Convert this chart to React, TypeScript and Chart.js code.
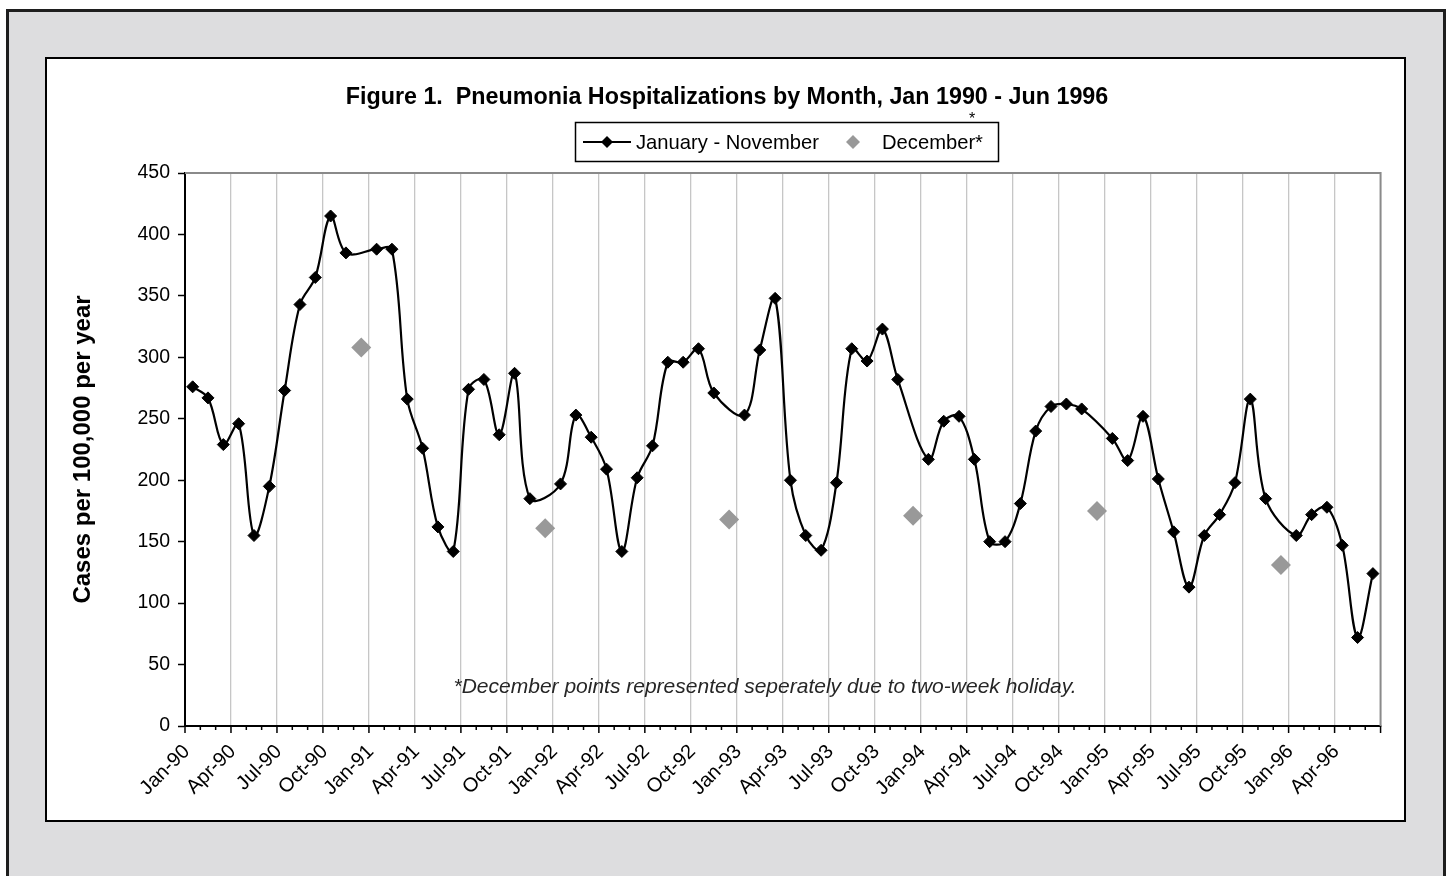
import React, { useEffect, useRef } from 'react';
import { Chart, registerables } from 'chart.js';

Chart.register(...registerables);

const MONTH_NAMES = ['Jan', 'Feb', 'Mar', 'Apr', 'May', 'Jun', 'Jul', 'Aug', 'Sep', 'Oct', 'Nov', 'Dec'];
const YEAR_SUFFIXES = ['90', '91', '92', '93', '94', '95', '96'];
const MONTH_COUNT = 78; // Jan 1990 - Jun 1996

const categories: string[] = [];
for (const y of YEAR_SUFFIXES) {
  for (const m of MONTH_NAMES) {
    if (categories.length < MONTH_COUNT) categories.push(`${m}-${y}`);
  }
}

// January - November values (December left empty, shown separately)
const janToNov: (number | null)[] = [
  // 1990
  276, 267, 229, 246, 155, 195, 273, 343, 365, 415, 385, null,
  // 1991
  388, 388, 266, 226, 162, 142, 274, 282, 237, 287, 185, null,
  // 1992
  197, 253, 235, 209, 142, 202, 228, 296, 296, 307, 271, null,
  // 1993
  253, 306, 348, 200, 155, 143, 198, 307, 297, 323, 282, null,
  // 1994
  217, 248, 252, 217, 150, 150, 181, 240, 260, 262, 258, null,
  // 1995
  234, 216, 252, 201, 158, 113, 155, 172, 198, 266, 185, null,
  // 1996
  155, 172, 178, 147, 72, 124,
];

// December values 1990 - 1995
const decemberValues = [308, 161, 168, 171, 175, 131];

const decemberSeries = categories.map((c, i) =>
  c.startsWith('Dec') ? decemberValues[Math.floor(i / 12)] : null
);

const Y_MIN = 0;
const Y_MAX = 450;
const Y_STEP = 50;

const TITLE = 'Figure 1.  Pneumonia Hospitalizations by Month, Jan 1990 - Jun 1996';
const Y_TITLE = 'Cases per 100,000 per year';
const NOTE = '*December points represented seperately due to two-week holiday.';
const SERIES_LABELS = ['January - November', 'December*'];

const FONT = "'Liberation Sans', Arial, Helvetica, sans-serif";

function diamond(ctx: CanvasRenderingContext2D, x: number, y: number, r: number) {
  ctx.beginPath();
  ctx.moveTo(x - r, y);
  ctx.lineTo(x, y - r);
  ctx.lineTo(x + r, y);
  ctx.lineTo(x, y + r);
  ctx.closePath();
  ctx.fill();
}

const decorPlugin = {
  id: 'decor',
  afterDraw(chart: any) {
    const { ctx, chartArea: ca, scales } = chart;
    const xs = scales.x;
    ctx.save();

    // top and right plot borders (gray)
    ctx.strokeStyle = '#8a8a8a';
    ctx.lineWidth = 2;
    ctx.beginPath();
    ctx.moveTo(ca.left, ca.top);
    ctx.lineTo(ca.right, ca.top);
    ctx.lineTo(ca.right, ca.bottom);
    ctx.stroke();

    // x tick marks: every month, longer every quarter
    const n = chart.data.labels.length;
    const w = (xs.right - xs.left) / n;
    ctx.strokeStyle = '#000';
    ctx.lineWidth = 1.5;
    for (let i = 0; i <= n; i++) {
      const px = xs.left + i * w;
      const len = i % 3 === 0 ? 7 : 4;
      ctx.beginPath();
      ctx.moveTo(px, ca.bottom);
      ctx.lineTo(px, ca.bottom + len);
      ctx.stroke();
    }

    // title
    ctx.fillStyle = '#000';
    ctx.font = `bold 23.3px ${FONT}`;
    ctx.textAlign = 'center';
    ctx.textBaseline = 'alphabetic';
    ctx.fillText(TITLE, 680, 45);

    // legend
    const lx = 528.5, ly = 63.5, lw = 423, lh = 39;
    ctx.strokeStyle = '#000';
    ctx.lineWidth = 1.5;
    ctx.strokeRect(lx, ly, lw, lh);
    const cy = 83;
    ctx.strokeStyle = '#000';
    ctx.lineWidth = 2;
    ctx.beginPath();
    ctx.moveTo(536, cy);
    ctx.lineTo(584, cy);
    ctx.stroke();
    ctx.fillStyle = '#000';
    diamond(ctx, 560, cy, 6);
    ctx.fillStyle = '#999999';
    diamond(ctx, 806, cy, 7);
    ctx.fillStyle = '#000';
    ctx.font = `20.2px ${FONT}`;
    ctx.textAlign = 'left';
    ctx.fillText(chart.data.datasets[0].label, 589, 90);
    ctx.fillText(chart.data.datasets[1].label, 835, 90);

    // stray asterisk above legend
    ctx.font = `16px ${FONT}`;
    ctx.textAlign = 'center';
    ctx.fillText('*', 925, 65);

    // note
    ctx.fillStyle = '#262626';
    ctx.font = `italic 21px ${FONT}`;
    ctx.textAlign = 'center';
    ctx.fillText(NOTE, 718, 634);

    ctx.restore();
  },
};

export default function App() {
  const ref = useRef<HTMLCanvasElement | null>(null);

  useEffect(() => {
    if (!ref.current) return;
    Chart.defaults.font.family = FONT;
    const chart = new Chart(ref.current, {
      type: 'line',
      data: {
        labels: categories,
        datasets: [
          {
            label: SERIES_LABELS[0],
            data: janToNov,
            borderColor: '#000',
            backgroundColor: '#000',
            borderWidth: 2.2,
            tension: 0.35,
            spanGaps: true,
            fill: false,
            pointStyle: 'rectRot',
            pointRadius: 6,
            pointBackgroundColor: '#000',
            pointBorderColor: '#000',
            pointBorderWidth: 1,
            order: 1,
          },
          {
            label: SERIES_LABELS[1],
            data: decemberSeries,
            showLine: false,
            pointStyle: 'rectRot',
            pointRadius: 10,
            pointBackgroundColor: '#999999',
            pointBorderColor: '#999999',
            pointBorderWidth: 0,
            order: 2,
          },
        ],
      },
      options: {
        responsive: false,
        animation: false,
        devicePixelRatio: 1,
        layout: { padding: { top: 114, right: 19, left: 0, bottom: 0 } },
        plugins: {
          legend: { display: false },
          title: { display: false },
          tooltip: { enabled: false },
        },
        scales: {
          x: {
            type: 'category',
            offset: true,
            grid: {
              offset: true,
              drawTicks: false,
              lineWidth: 1.3,
              color: (c: any) => (c.index % 3 === 0 && c.index > 0 && c.index < MONTH_COUNT ? '#c6c6c6' : 'rgba(0,0,0,0)'),
            },
            border: { display: true, color: '#000', width: 2 },
            ticks: {
              autoSkip: false,
              maxRotation: 45,
              minRotation: 45,
              labelOffset: -6,
              padding: 14,
              color: '#000',
              font: { size: 20 },
              callback: (_v: any, i: number) => (i % 3 === 0 ? categories[i] : ''),
            },
            afterFit: (s: any) => {
              s.height = 94;
            },
          },
          y: {
            min: Y_MIN,
            max: Y_MAX,
            ticks: { stepSize: Y_STEP, padding: 8, color: '#000', font: { size: 19.5 } },
            grid: { drawOnChartArea: false, drawTicks: true, tickLength: 7, tickColor: '#000', tickWidth: 1.5 },
            border: { display: true, color: '#000', width: 2 },
            title: {
              display: true,
              text: Y_TITLE,
              color: '#000',
              font: { size: 24, weight: 'bold' },
              padding: { top: 22, bottom: 0 },
            },
            afterFit: (s: any) => {
              s.width = 138;
            },
          },
        },
      },
      plugins: [decorPlugin],
    } as any);
    return () => chart.destroy();
  }, []);

  return (
    <div
      style={{
        position: 'fixed',
        left: 6,
        top: 9,
        width: 1434,
        height: 900,
        border: '3px solid #1e1e1e',
        background: '#dddddf',
      }}
    >
      <div
        style={{
          position: 'absolute',
          left: 36,
          top: 45,
          width: 1357,
          height: 761,
          border: '2px solid #000',
          background: '#fff',
        }}
      >
        <canvas ref={ref} width={1357} height={761} style={{ display: 'block' }} />
      </div>
    </div>
  );
}
